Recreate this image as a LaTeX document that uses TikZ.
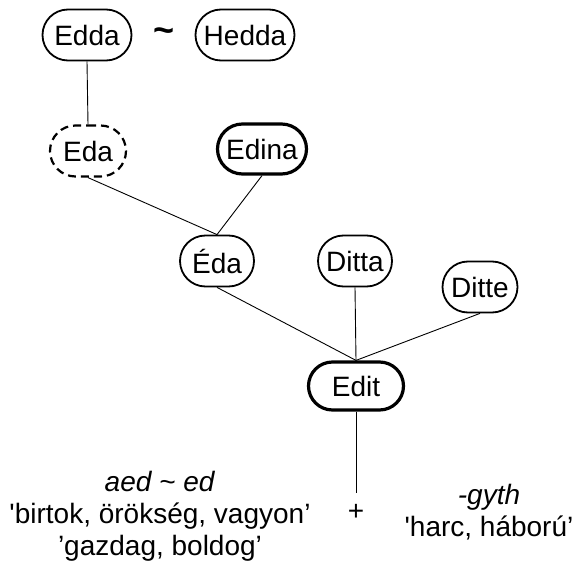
\documentclass[tikz,border=0pt]{standalone}
\usepackage{fontspec}
\setmainfont{Liberation Sans}
\usepackage{tikz}
\usetikzlibrary{positioning, shapes.misc}

\begin{document}
\begin{tikzpicture}[x=1pt, y=-1pt,
    namebox/.style={draw, rounded rectangle, line width=1.8pt,
      minimum width=76pt, minimum height=51pt, inner xsep=1pt,
      font=\fontsize{28}{32}\selectfont},
    nameboxbold/.style={namebox, line width=3.2pt},
    nameboxdashed/.style={namebox, line width=2.2pt, dash pattern=on 8pt off 5pt},
    link/.style={draw, line width=0.9pt}]
  \useasboundingbox (0,0) rectangle (578,564);
  % Name variants
  \node[namebox, minimum width=91pt] (edda) at (87,35) {Edda};
  \node[font=\fontsize{36}{40}\selectfont\bfseries] (tilde) at (164,35) {\textasciitilde};
  \node[namebox, minimum width=101pt] (hedda) at (245,35) {Hedda};
  \node[nameboxdashed, minimum width=78pt] (eda) at (88,151) {Eda};
  \node[nameboxbold, minimum width=91pt, minimum height=50pt] (edina) at (262,149) {Edina};
  \node[namebox] (eeda) at (217,261) {Éda};
  \node[namebox] (ditta) at (355,261) {Ditta};
  \node[namebox, minimum width=77pt] (ditte) at (480,287) {Ditte};
  \node[nameboxbold, minimum width=97pt, minimum height=48pt] (edit) at (356,386) {Edit};
  % Links
  \draw[link] (edda.south) -- (eda.north);
  \draw[link] (eda.south) -- (eeda.north);
  \draw[link] (edina.south) -- (eeda.north);
  \draw[link] (eeda.south) -- (edit.north);
  \draw[link] (ditta.south) -- (edit.north);
  \draw[link] (ditte.south) -- (edit.north);
  \coordinate (root) at (356,493);
  \draw[link] (edit.south) -- (root);
  % Etymology
  \node[align=center, font=\fontsize{28}{32}\selectfont] (aed) at (160,516)
    {\textit{aed \textasciitilde\ ed}\\\textquotesingle birtok, örökség, vagyon’\\’gazdag, boldog’};
  \node[font=\fontsize{28}{32}\selectfont] (plus) at (356,512) {+};
  \node[align=center, font=\fontsize{28}{32}\selectfont] (gyth) at (489,512)
    {\textit{-gyth}\\\textquotesingle harc, háború’};
\end{tikzpicture}
\end{document}
